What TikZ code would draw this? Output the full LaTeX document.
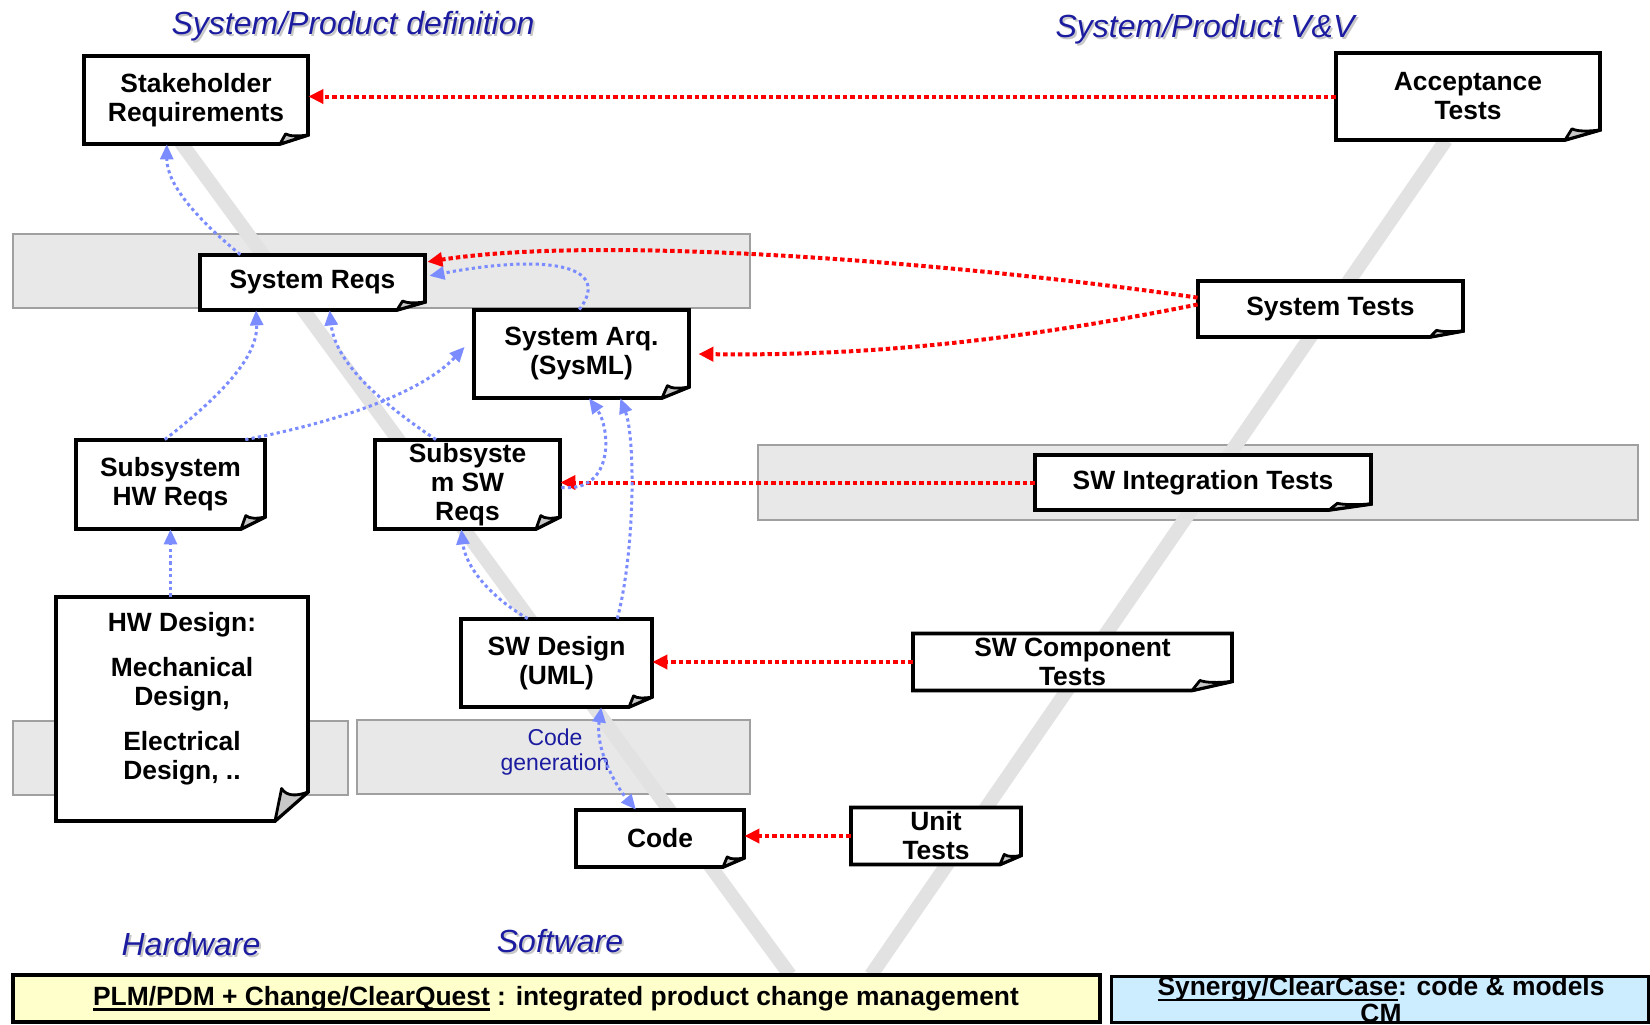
\documentclass[tikz,border=0pt]{standalone}
\usepackage{fontspec}
\setmainfont{Liberation Sans}
\usetikzlibrary{arrows.meta,calc}
\definecolor{vblue}{RGB}{122,140,255}
\definecolor{vred}{RGB}{255,0,0}
\definecolor{bandfill}{RGB}{232,232,232}
\definecolor{bandline}{RGB}{160,160,160}
\definecolor{navy}{RGB}{28,28,160}
\definecolor{vstrip}{RGB}{226,226,226}
\definecolor{barylw}{RGB}{255,255,204}
\definecolor{barblu}{RGB}{204,236,255}
\definecolor{curlgray}{RGB}{200,200,200}
\newcommand{\myuline}[1]{\setbox0\hbox{#1}\rlap{\rule[-2.4pt]{\wd0}{1.1pt}}\box0\relax}
\tikzset{
  band/.style={draw=bandline, line width=1.2pt, fill=bandfill},
  vstripe/.style={draw=vstrip, line width=7pt},
  boxline/.style={draw=black, line width=1.8pt, fill=white, line join=miter},
  curl/.style={draw=black, line width=1.4pt, fill=curlgray, line join=round},
  boxtext/.style={inner sep=0pt, align=center, font=\fontsize{13.2}{14.5}\selectfont\bfseries},
  barbox/.style={draw=black, inner sep=0pt},
  reqlink/.style={draw=vred, line width=2pt, dash pattern=on 2.2pt off 1.5pt, -{Triangle[length=7.5pt,width=7pt]}},
  tracelink/.style={draw=vblue, line width=1.5pt, dash pattern=on 1.6pt off 1.6pt, -{Triangle[length=7.5pt,width=6.5pt]}},
  sectitle/.style={font=\fontsize{16}{18}\selectfont\itshape, text=navy, inner sep=0pt},
  secshadow/.style={font=\fontsize{16}{18}\selectfont\itshape, text=black!22, inner sep=0pt},
  genlabel/.style={font=\fontsize{11.5}{12.5}\selectfont, text=navy, inner sep=0pt, align=center},
}
% name, cx, cy, w, h, fold-h, fold-v, text
\newcommand{\docbox}[8]{%
  \draw[boxline] ({#2-#4/2},{#3-#5/2}) -- ({#2+#4/2},{#3-#5/2}) -- ({#2+#4/2},{#3+#5/2-#7}) -- ({#2+#4/2-#6},{#3+#5/2}) -- ({#2-#4/2},{#3+#5/2}) -- cycle;
  \draw[curl] ({#2+#4/2},{#3+#5/2-#7}) .. controls ({#2+#4/2-0.35*#6},{#3+#5/2-0.85*#7}) and ({#2+#4/2-0.65*#6},{#3+#5/2-0.85*#7}) .. ({#2+#4/2-0.8*#6},{#3+#5/2-1.12*#7}) -- ({#2+#4/2-#6},{#3+#5/2}) -- cycle;
  \node[boxtext, minimum width={#4*0.5pt}, minimum height={#5*0.5pt}] (#1) at (#2,#3) {#8};
}
\begin{document}
\begin{tikzpicture}[x=0.5pt, y=-0.5pt]
\useasboundingbox (0,0) rectangle (1650,1024);
\fill[white] (0,0) rectangle (1650,1024);

% bands
\draw[band] (13,234) rectangle (750,308);
\draw[band] (758,445) rectangle (1638,520);
\draw[band] (13,721) rectangle (348,795);
\draw[band] (357,720) rectangle (750,794);

% V strips
\draw[vstripe] (179,140) -- (790,975);
\draw[vstripe] (1446,140) -- (871,975);

% bottom bars
\node[barbox, fill=barylw, line width=1.8pt, minimum width={1087*0.5pt}, minimum height={47*0.5pt}] (plmbar) at (556.5,998.5) {};
\node[boxtext] (plmtext) at (556,999) {\myuline{PLM/PDM + Change/ClearQuest} : integrated product change management};
\node[barbox, fill=barblu, line width=1.5pt, minimum width={537*0.5pt}, minimum height={46*0.5pt}] (cmbar) at (1379.5,999) {};
\node[boxtext, font=\fontsize{13.2}{13.5}\selectfont\bfseries] (cmtext) at (1381,1000) {\myuline{Synergy/ClearCase}: code \& models\\CM};

% boxes
\docbox{stake}{196}{100}{224}{88}{28}{9}{Stakeholder\\Requirements}
\docbox{acc}{1468}{96.5}{264}{87}{35}{10}{Acceptance\\Tests}
\docbox{sysreq}{312.5}{282.5}{225}{55}{28}{8}{System Reqs}
\docbox{sysarq}{581.5}{354}{215}{88}{27}{11}{System Arq.\\(SysML)}
\docbox{systest}{1330.5}{309}{265}{56}{33}{6}{System Tests}
\docbox{subhw}{170.5}{484.5}{189}{89}{24}{12}{Subsystem\\HW Reqs}
\docbox{subsw}{467.5}{484.5}{185}{89}{24}{12}{Subsyste\\m SW\\Reqs}
\docbox{hwd}{182}{709}{252}{224}{33}{29}{}
\node[boxtext] (hwdtext) at (182,699) {HW Design:\\[8pt]Mechanical\\Design,\\[8pt]Electrical\\Design, ..};
\docbox{swd}{556.5}{663}{191}{88}{23}{10}{SW Design\\(UML)}
\docbox{code}{660}{838.5}{168}{57}{21}{9}{Code}
\docbox{swit}{1203}{482.5}{336}{55}{42}{6}{SW Integration Tests}
\docbox{swct}{1072.5}{662}{319}{57}{40}{9}{SW Component\\Tests}
\docbox{unit}{936}{836}{170}{57}{21}{9}{Unit\\Tests}

% labels
\node[secshadow] (t1s) at (355,28) {System/Product definition};
\node[sectitle] (t1) at (353,26) {System/Product definition};
\node[secshadow] (t2s) at (1207,31) {System/Product V\&V};
\node[sectitle] (t2) at (1205,29) {System/Product V\&V};
\node[secshadow] (t3s) at (193,946) {Hardware};
\node[sectitle] (t3) at (191,944) {Hardware};
\node[secshadow] (t4s) at (562,943) {Software};
\node[sectitle] (t4) at (560,941) {Software};
\node[genlabel] (gen) at (555,752) {Code\\generation};

% red verification links
\draw[reqlink] (acc.west) -- (acc.west -| stake.east);
\draw[reqlink] ($(systest.north west)!0.3!(systest.south west)$) .. controls +(-248,-36) and +(173,-27) .. ($(sysreq.north east)!0.13!(sysreq.south east)+(2,0)$);
\draw[reqlink] ($(systest.north west)!0.42!(systest.south west)$) .. controls +(-198,40) and +(152,2) .. ([xshift=4.5pt]sysarq.east);
\draw[reqlink] (swit.west) -- (swit.west -| subsw.east);
\draw[reqlink] (swct.west) -- (swct.west -| swd.east);
\draw[reqlink] (unit.west) -- (unit.west -| code.east);

% blue trace links
\draw[tracelink] ($(sysreq.north west)!0.18!(sysreq.north east)$) .. controls +(-46,-38) and +(0,39) .. ($(stake.south west)!0.37!(stake.south east)$);
\draw[tracelink] ($(subhw.north west)!0.47!(subhw.north east)$) .. controls +(55,-43) and +(2,47) .. ($(sysreq.south west)!0.25!(sysreq.south east)$);
\draw[tracelink] ($(subhw.north west)!0.894!(subhw.north east)$) .. controls +(85,-16) and +(-45,48) .. ($(sysarq.north west)!0.42!(sysarq.south west)+(-9,0)$);
\draw[tracelink] ($(subsw.north west)!0.33!(subsw.north east)$) .. controls +(-46,-31) and +(6,56) .. ($(sysreq.south west)!0.576!(sysreq.south east)$);
\draw[tracelink] ($(sysarq.north west)!0.49!(sysarq.north east)$) .. controls +(35,-47) and +(111,-21) .. ($(sysreq.north east)!0.38!(sysreq.south east)+(4,0)$);
\draw[tracelink] ($(subsw.east)+(1,3)$) .. controls +(54,5) and +(21,29) .. ($(sysarq.south west)!0.535!(sysarq.south east)$);
\draw[tracelink] ($(swd.north west)!0.817!(swd.north east)$) .. controls +(18,-69) and +(15,39) .. ($(sysarq.south west)!0.68!(sysarq.south east)$);
\draw[tracelink] ($(swd.north west)!0.35!(swd.north east)$) .. controls +(-38,-22) and +(4,37) .. ($(subsw.south west)!0.467!(subsw.south east)$);
\draw[tracelink, {Triangle[length=7.5pt,width=6.5pt]}-{Triangle[length=7.5pt,width=6.5pt]}] ($(swd.south west)!0.733!(swd.south east)$) .. controls +(-6,41) and +(-21,-25) .. ($(code.north west)!0.357!(code.north east)$);
\draw[tracelink] (subhw.south |- hwd.north) -- (subhw.south);
\end{tikzpicture}
\end{document}
